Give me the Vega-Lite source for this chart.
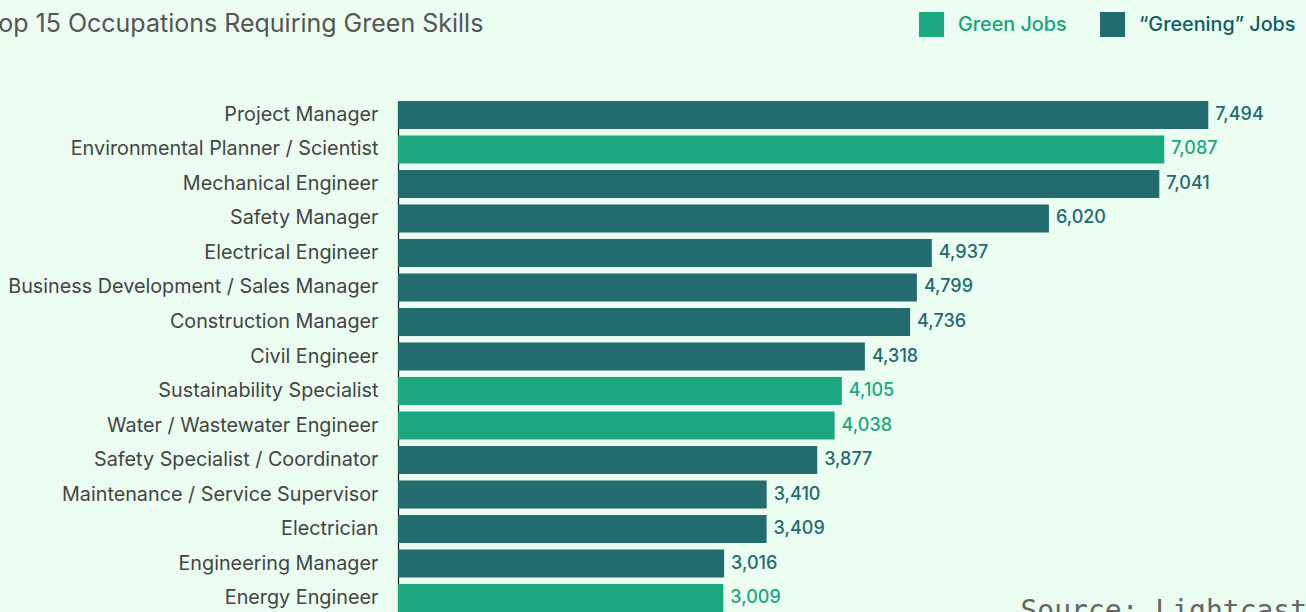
{
  "$schema": "https://vega.github.io/schema/vega-lite/v6.json",
  "autosize": {"type": "none"},
  "width": 865,
  "height": 511,
  "padding": {"left": 398, "top": 101, "right": 43, "bottom": 0},
  "background": "#ebfcf1",
  "title": {
    "text": "Top 15 Occupations Requiring Green Skills",
    "anchor": "start",
    "frame": "group",
    "dx": -414,
    "offset": -25,
    "font": "Inter",
    "fontSize": 25,
    "fontWeight": "normal",
    "color": "#555555"
  },
  "data": {
    "values": [
      {"occupation": "Project Manager", "value": 7494, "type": "“Greening” Jobs"},
      {"occupation": "Environmental Planner / Scientist", "value": 7087, "type": "Green Jobs"},
      {"occupation": "Mechanical Engineer", "value": 7041, "type": "“Greening” Jobs"},
      {"occupation": "Safety Manager", "value": 6020, "type": "“Greening” Jobs"},
      {"occupation": "Electrical Engineer", "value": 4937, "type": "“Greening” Jobs"},
      {"occupation": "Business Development / Sales Manager", "value": 4799, "type": "“Greening” Jobs"},
      {"occupation": "Construction Manager", "value": 4736, "type": "“Greening” Jobs"},
      {"occupation": "Civil Engineer", "value": 4318, "type": "“Greening” Jobs"},
      {"occupation": "Sustainability Specialist", "value": 4105, "type": "Green Jobs"},
      {"occupation": "Water / Wastewater Engineer", "value": 4038, "type": "Green Jobs"},
      {"occupation": "Safety Specialist / Coordinator", "value": 3877, "type": "“Greening” Jobs"},
      {"occupation": "Maintenance / Service Supervisor", "value": 3410, "type": "“Greening” Jobs"},
      {"occupation": "Electrician", "value": 3409, "type": "“Greening” Jobs"},
      {"occupation": "Engineering Manager", "value": 3016, "type": "“Greening” Jobs"},
      {"occupation": "Energy Engineer", "value": 3009, "type": "Green Jobs"}
    ]
  },
  "encoding": {
    "y": {
      "field": "occupation",
      "type": "nominal",
      "sort": {"field": "value", "order": "descending"},
      "scale": {"paddingInner": 0.19, "paddingOuter": 0},
      "axis": {
        "title": null,
        "ticks": false,
        "domain": true,
        "domainColor": "#111111",
        "domainWidth": 1.2,
        "labelPadding": 20,
        "labelFont": "Inter",
        "labelFontSize": 19.8,
        "labelColor": "#444444",
        "labelLimit": 500
      }
    },
    "x": {
      "field": "value",
      "type": "quantitative",
      "scale": {"domain": [0, 8000], "nice": false},
      "axis": {
        "orient": "bottom",
        "title": "Source: Lightcast",
        "labels": false,
        "ticks": false,
        "domain": false,
        "grid": false,
        "titleX": 622,
        "titleY": -15,
        "titleAlign": "left",
        "titleAnchor": null,
        "titleBaseline": "top",
        "titleFont": "DejaVu Sans Mono",
        "titleFontSize": 28,
        "titleFontWeight": "normal",
        "titleColor": "#666666"
      }
    },
    "color": {
      "field": "type",
      "type": "nominal",
      "scale": {
        "domain": ["Green Jobs", "“Greening” Jobs"],
        "range": ["#1ba880", "#226b6e"]
      },
      "legend": {
        "title": null,
        "orient": "none",
        "legendX": 521,
        "legendY": -89,
        "direction": "horizontal",
        "padding": 0,
        "symbolType": "square",
        "symbolSize": 625,
        "symbolStrokeWidth": 0,
        "symbolOpacity": 1,
        "labelOffset": 14,
        "columnPadding": 33,
        "labelFont": "Inter",
        "labelFontSize": 19.8,
        "labelFontWeight": 500,
        "encode": {
          "symbols": {"update": {"fill": {"signal": "datum.value === 'Green Jobs' ? '#1aa87f' : '#0b5c60'"}, "stroke": {"value": null}}},
          "labels": {"update": {"fill": {"signal": "datum.value === 'Green Jobs' ? '#16a57b' : '#0f5e61'"}}}
        }
      }
    }
  },
  "layer": [
    {"mark": {"type": "bar"}},
    {
      "mark": {"type": "text", "align": "left", "baseline": "middle", "dx": 7, "font": "Inter", "fontSize": 18, "fontWeight": 500},
      "encoding": {
        "text": {"field": "value", "type": "quantitative", "format": ",d"}
      }
    }
  ],
  "config": {"view": {"stroke": null}}
}
